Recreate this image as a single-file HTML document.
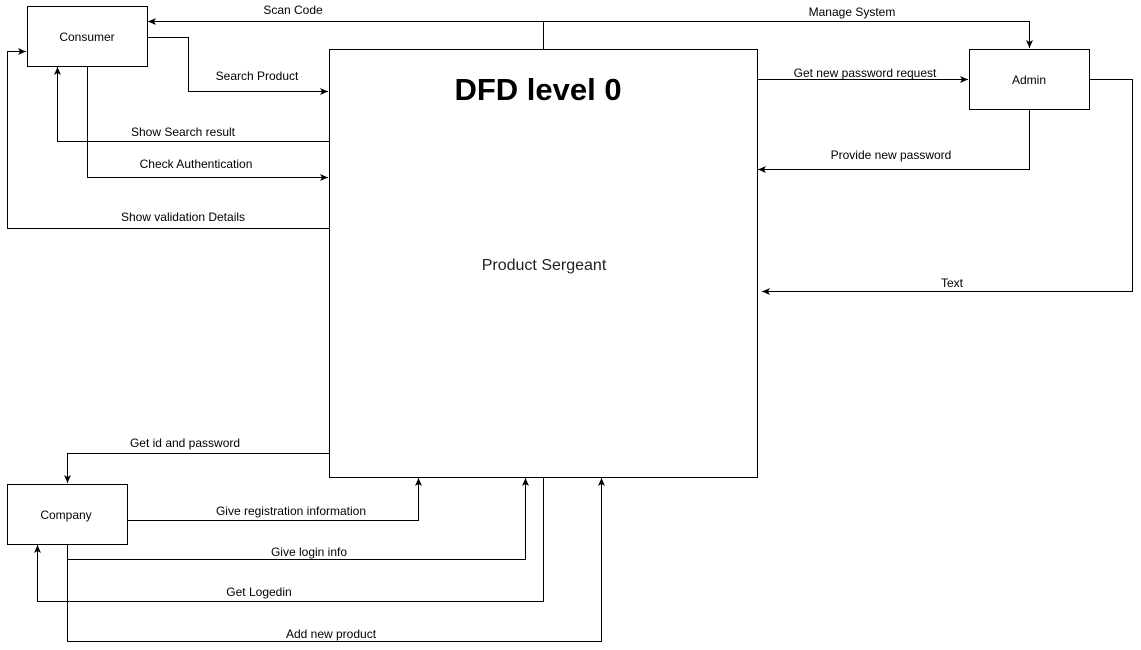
<!DOCTYPE html>
<html><head><meta charset="utf-8"><style>
html,body{margin:0;padding:0;background:#fff;}
svg{display:block;font-family:"Liberation Sans",Arial,sans-serif;}
</style></head><body>
<svg width="1141" height="650" viewBox="0 0 1141 650" xmlns="http://www.w3.org/2000/svg">
<defs>
<marker id="a" markerWidth="10" markerHeight="10" refX="9" refY="5" orient="auto" markerUnits="userSpaceOnUse">
<path d="M1,1.5 L9,5 L1,8.5 L3,5 Z" fill="#000"/>
</marker>
</defs>
<g fill="none" stroke="#000" stroke-width="1">
<rect x="27.5" y="6.5" width="120" height="60"/>
<rect x="329.5" y="49.5" width="428" height="428"/>
<rect x="969.5" y="49.5" width="120" height="60"/>
<rect x="7.5" y="484.5" width="120" height="60"/>
<polyline points="543.5,49 543.5,21.5 148,21.5" marker-end="url(#a)"/>
<polyline points="543.5,21.5 1029.5,21.5 1029.5,48" marker-end="url(#a)"/>
<polyline points="147,37.5 188.5,37.5 188.5,91.5 328,91.5" marker-end="url(#a)"/>
<polyline points="329,141.5 57.5,141.5 57.5,67" marker-end="url(#a)"/>
<polyline points="87.5,66 87.5,177.5 328,177.5" marker-end="url(#a)"/>
<polyline points="329,228.5 7.5,228.5 7.5,51.5 26,51.5" marker-end="url(#a)"/>
<polyline points="757,79.5 968,79.5" marker-end="url(#a)"/>
<polyline points="1029.5,109 1029.5,169.5 758,169.5" marker-end="url(#a)"/>
<polyline points="1089,79.5 1132.5,79.5 1132.5,291.5 762,291.5" marker-end="url(#a)"/>
<polyline points="329,453.5 67.5,453.5 67.5,483" marker-end="url(#a)"/>
<polyline points="127,520.5 418.5,520.5 418.5,478" marker-end="url(#a)"/>
<polyline points="67.5,544 67.5,559.5 525.5,559.5 525.5,478" marker-end="url(#a)"/>
<polyline points="543.5,477 543.5,601.5 37.5,601.5 37.5,545" marker-end="url(#a)"/>
<polyline points="67.5,559.5 67.5,641.5 601.5,641.5 601.5,478" marker-end="url(#a)"/>
</g>
<g font-size="12" fill="#000" text-anchor="middle">
<text x="87" y="41">Consumer</text>
<text x="1029" y="84">Admin</text>
<text x="66" y="519">Company</text>
<text x="293" y="14">Scan Code</text>
<text x="852" y="16">Manage System</text>
<text x="257" y="80">Search Product</text>
<text x="183" y="136">Show Search result</text>
<text x="196" y="168">Check Authentication</text>
<text x="183" y="221">Show validation Details</text>
<text x="865" y="77">Get new password request</text>
<text x="891" y="159">Provide new password</text>
<text x="952" y="287">Text</text>
<text x="185" y="447">Get id and password</text>
<text x="291" y="515">Give registration information</text>
<text x="309" y="556">Give login info</text>
<text x="259" y="596">Get Logedin</text>
<text x="331" y="638">Add new product</text>
</g>
<text x="538" y="100" font-size="31" font-weight="bold" text-anchor="middle">DFD level 0</text>
<text x="544" y="270" font-size="16" text-anchor="middle" fill="#222">Product Sergeant</text>
</svg>
</body></html>
